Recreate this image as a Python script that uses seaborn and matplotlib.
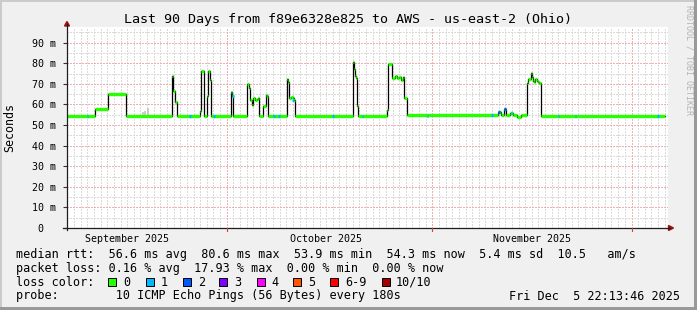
import numpy as np
import pandas as pd
import seaborn as sns
import matplotlib
matplotlib.use("Agg")
import matplotlib.pyplot as plt
from matplotlib.patches import Rectangle, Polygon

# ---------------- data (days since start of the 90-day window, median rtt in ms) ----------------
days = [0.00, 4.22, 6.18, 8.89, 15.80, 16.05, 16.28, 16.51, 20.05, 20.27, 20.69, 21.05, 21.25,
        21.55, 21.72, 24.72, 24.90, 25.07, 27.18, 27.48, 27.59, 27.84, 28.08, 28.34, 28.60,
        28.84, 28.99, 29.59, 29.95, 30.10, 30.25, 30.34, 33.12, 33.36, 33.51, 33.72, 34.11,
        34.26, 34.41, 43.04, 43.19, 43.34, 43.46, 43.61, 43.71, 43.83, 48.31, 48.43, 49.04,
        49.44, 49.79, 50.09, 50.35, 50.60, 50.84, 51.21, 65.01, 65.37, 65.87, 66.17, 66.78,
        67.18, 67.83, 68.39, 69.39, 69.56, 69.90, 70.05, 70.20, 70.40, 70.55, 70.80, 71.00,
        71.19, 71.38, 71.50, 90.10]
median_ms = [54.2, 57.8, 65.2, 54.4, 73.8, 66.6, 61.3, 54.4, 57.0, 76.2, 54.4, 64.0, 76.0,
             71.8, 54.4, 66.2, 64.0, 54.4, 69.8, 68.0, 62.1, 59.5, 63.0, 62.1, 62.6,
             63.0, 54.4, 59.2, 64.6, 63.9, 57.3, 54.5, 72.2, 71.0, 63.0, 63.7, 63.3,
             62.1, 54.5, 80.6, 78.5, 77.0, 74.0, 73.0, 59.0, 54.6, 57.3, 79.5, 72.7,
             73.8, 72.7, 73.4, 71.8, 73.2, 63.0, 54.7, 56.5, 54.8, 57.6, 54.8, 56.0,
             54.8, 54.0, 54.8, 70.5, 72.2, 75.4, 73.5, 71.5, 71.0, 72.2, 71.2, 70.8,
             70.5, 55.7, 54.6, 54.6]

# samples with 1/10 lost (light blue) and 2/10 lost (blue)
loss1_days = [3.09, 18.54, 22.16, 25.02, 31.20, 31.96, 34.07, 40.10, 44.57, 54.34, 64.06,
              67.03, 74.09, 76.65, 89.13]
loss1_ms = [54.2, 54.4, 54.4, 64.0, 54.5, 54.5, 62.1, 54.5, 54.6, 54.6, 54.7, 56.0, 54.6,
            54.6, 54.6]
loss2_days = [65.16, 66.02]
loss2_ms = [56.5, 57.6]

# light smoke (outlier pings)
smoke_days = [11.52, 11.82, 12.21]
smoke_lo = [54.5, 54.5, 54.5]
smoke_hi = [56.5, 57.0, 58.4]

y_ticks = [0, 10, 20, 30, 40, 50, 60, 70, 80, 90]
y_ticklabels = ["0  ", "10 m", "20 m", "30 m", "40 m", "50 m", "60 m", "70 m", "80 m", "90 m"]
month_label_days = [9.074, 39.074, 70.074]
month_labels = ["September 2025", "October 2025", "November 2025"]
month_start_days = [24.074, 55.074, 85.11]
day_grid_start = 0.074

loss_labels = ["0", "1", "2", "3", "4", "5", "6-9", "10/10"]
loss_colors = ["#26ff00", "#00b8ff", "#0059ff", "#7e00ff", "#ff00ff", "#ff5500", "#ff0000", "#a10000"]

title = "Last 90 Days from f89e6328e825 to AWS - us-east-2 (Ohio)"
row1 = "median rtt:  56.6 ms avg  80.6 ms max  53.9 ms min  54.3 ms now  5.4 ms sd  10.5   am/s"
row2 = "packet loss: 0.16 % avg  17.93 % max  0.00 % min  0.00 % now"
row3 = "loss color:"
row4 = "probe:        10 ICMP Echo Pings (56 Bytes) every 180s"
stamp = "Fri Dec  5 22:13:46 2025"

# ---------------- figure ----------------
MONO = ["DejaVu Sans Mono"]
plt.rcParams["font.family"] = MONO
W, H = 697, 310
fig = plt.figure(figsize=(W / 100, H / 100), dpi=100, facecolor="#f0f0f0")


def fx(px):
    return px / W


def fy(py):
    return 1 - py / H


x0, x1, y0, y1 = 67, 668, 228, 27
ax = fig.add_axes([fx(x0), fy(y0), fx(x1) - fx(x0), fy(y1) - fy(y0)])
ax.set_facecolor("white")
XMAX = 90.6
YMAX = 97.6
ax.set_xlim(0, XMAX)
ax.set_ylim(0, YMAX)
for s in ax.spines.values():
    s.set_visible(False)

# grid
minor_col = "#dadada"
major_col = "#eeb0b0"
gkw = dict(lw=0.72, ls=(0, (1.4, 1.4)), antialiased=False)
for v in np.arange(5, YMAX, 10):
    ax.axhline(v, color=minor_col, zorder=0.5, **gkw)
for v in y_ticks[1:]:
    ax.axhline(v, color=major_col, zorder=0.6, **gkw)
d = day_grid_start
while d < XMAX:
    if min(abs(d - m) for m in month_start_days) > 0.2:
        ax.axvline(d, color=minor_col, zorder=0.5, **gkw)
    d += 1
for m in month_start_days:
    ax.axvline(m, color=major_col, zorder=0.6, **gkw)

# smoke
ax.vlines(smoke_days, smoke_lo, smoke_hi, color="#c4c4c4", lw=1.2, zorder=1)

# median line (black) through seaborn
df = pd.DataFrame({"day": days, "median": median_ms})
sns.lineplot(data=df, x="day", y="median", drawstyle="steps-post", color="black",
             lw=0.9, ax=ax, estimator=None, sort=False, zorder=2)

# loss-coloured median bars
ax.hlines(median_ms[:-1], days[:-1], days[1:], color=loss_colors[0], lw=2.4, zorder=3)
ax.hlines(loss1_ms, np.array(loss1_days) - 0.12, np.array(loss1_days) + 0.12,
          color=loss_colors[1], lw=2.4, zorder=4)
ax.hlines(loss2_ms, np.array(loss2_days) - 0.15, np.array(loss2_days) + 0.15,
          color=loss_colors[2], lw=2.4, zorder=4)

ax.set_xlabel("")
ax.set_ylabel("")
ax.set_yticks(y_ticks)
ax.set_yticklabels(y_ticklabels, family=MONO, fontsize=7.2)
ax.tick_params(axis="y", length=3, width=0.8, pad=5, color="#333333")
ax.set_xticks(month_label_days)
ax.set_xticklabels(month_labels, family=MONO, fontsize=7.2)
ax.tick_params(axis="x", length=0, pad=4)

# axes lines with arrows
axis_col = "#1e1e1e"
arrow_col = "#9c1010"
fig.add_artist(plt.Line2D([fx(x0), fx(x0)], [fy(y0 + 2), fy(24)], color=axis_col, lw=0.9))
fig.add_artist(plt.Line2D([fx(x0 - 4), fx(670)], [fy(y0), fy(y0)], color=axis_col, lw=0.9))
fig.add_artist(Polygon([[fx(64.5), fy(26)], [fx(69.5), fy(26)], [fx(67), fy(21.5)]],
                       closed=True, color=arrow_col, transform=fig.transFigure))
fig.add_artist(Polygon([[fx(668.5), fy(225.5)], [fx(668.5), fy(230.5)], [fx(673.5), fy(228)]],
                       closed=True, color=arrow_col, transform=fig.transFigure))
for m in month_start_days:
    xp = x0 + m / XMAX * (x1 - x0)
    fig.add_artist(plt.Line2D([fx(xp), fx(xp)], [fy(y0), fy(y0 + 2.5)], color="#d04040", lw=0.8))

# texts
fig.text(fx(348), fy(19), title, ha="center", va="center", fontsize=9.6, family=MONO)
fig.text(fx(10), fy(128), "Seconds", ha="center", va="center", rotation=90, fontsize=8.4, family=MONO)
fig.text(fx(688.5), fy(60), "RRDTOOL / TOBI OETIKER", ha="center", va="center", rotation=270,
         fontsize=6.0, color="#b4b4b4", family=MONO)

fs = 8.5
rows_y = [254.3, 268.3, 282.0, 296.0]
fig.text(fx(16), fy(rows_y[0]), row1, ha="left", va="center", fontsize=fs, family=MONO)
fig.text(fx(16), fy(rows_y[1]), row2, ha="left", va="center", fontsize=fs, family=MONO)
fig.text(fx(16), fy(rows_y[2]), row3, ha="left", va="center", fontsize=fs, family=MONO)
fig.text(fx(16), fy(rows_y[3]), row4, ha="left", va="center", fontsize=fs, family=MONO)
fig.text(fx(680), fy(rows_y[3]), stamp, ha="right", va="center", fontsize=fs, family=MONO)

sq_x = [108.3, 145.7, 182.7, 219.3, 256.7, 293.3, 330.0, 381.7]
lab_x = [123.3, 161.0, 197.7, 234.3, 271.0, 308.3, 345.0, 396.0]
for sx, lx, lab, col in zip(sq_x, lab_x, loss_labels, loss_colors):
    fig.add_artist(Rectangle((fx(sx), fy(286)), fx(8), 8 / H, facecolor=col, edgecolor="black",
                             lw=0.7, transform=fig.transFigure))
    fig.text(fx(lx), fy(rows_y[2]), lab, ha="left", va="center", fontsize=fs, family=MONO)

# 3D frame
fig.add_artist(Rectangle((0, fy(2)), 1, 2 / H, facecolor="#cbcbcb", lw=0, transform=fig.transFigure))
fig.add_artist(Rectangle((0, 0), fx(2), 1, facecolor="#cbcbcb", lw=0, transform=fig.transFigure))
fig.add_artist(Rectangle((0, 0), 1, 3 / H, facecolor="#999999", lw=0, transform=fig.transFigure))
fig.add_artist(Rectangle((fx(694), 0), fx(3), 1, facecolor="#999999", lw=0, transform=fig.transFigure))

fig.savefig("out.png", dpi=100, facecolor=fig.get_facecolor())
